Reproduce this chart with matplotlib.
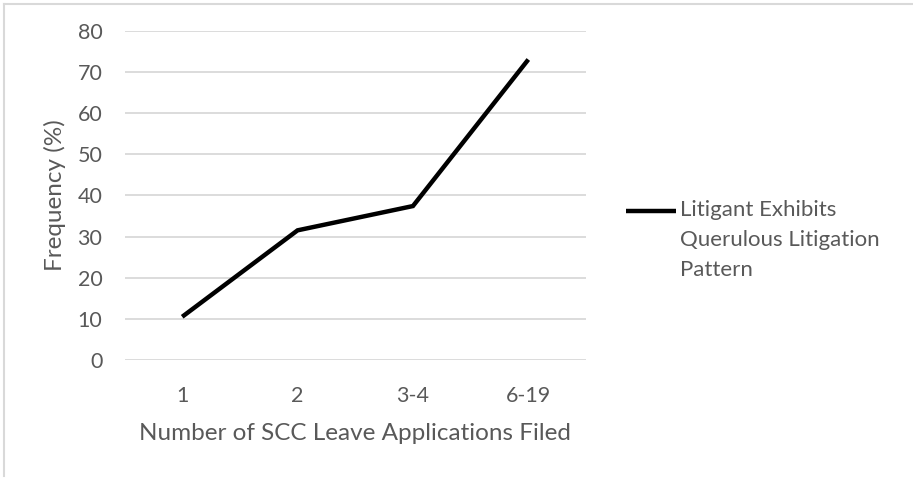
import matplotlib
matplotlib.use("Agg")
import matplotlib.pyplot as plt
from matplotlib.lines import Line2D

categories = ["1", "2", "3-4", "6-19"]
frequency = [10.5, 31.5, 37.4, 73.0]
yticks = [0, 10, 20, 30, 40, 50, 60, 70, 80]
series_name = "Litigant Exhibits\nQuerulous Litigation\nPattern"

W, H = 913, 478
fig = plt.figure(figsize=(W / 100, H / 100), dpi=100)
fig.patch.set_facecolor("white")

plt.rcParams["font.family"] = ["Lato", "DejaVu Sans"]
txt = "#595959"

ax_left, ax_right = 124.5, 586
ax = fig.add_axes([ax_left / W, 1 - 360 / H, (ax_right - ax_left) / W, (360 - 30.7) / H])
x = list(range(len(categories)))
ax.plot(x, frequency, color="black", lw=3.2, solid_joinstyle="miter", solid_capstyle="butt", zorder=3)
ax.set_xlim(-0.5, len(categories) - 0.5)
ax.set_ylim(0, 80)
ax.set_yticks(yticks)
ax.set_xticks(x)
ax.set_xticklabels(categories)
ax.grid(axis="y", color="#d9d9d9", lw=1.3)
ax.set_axisbelow(True)
for s in ax.spines.values():
    s.set_visible(False)
ax.tick_params(length=0, labelsize=15.5, labelcolor=txt)
ax.tick_params(axis="y", pad=16)
ax.tick_params(axis="x", pad=19)
ax.set_ylabel("Frequency (%)", fontsize=17.5, color=txt)
ax.yaxis.set_label_coords((66 - ax_left) / (ax_right - ax_left), 0.5)
ax.set_xlabel("Number of SCC Leave Applications Filed", fontsize=17.5, color=txt, labelpad=12)

# legend
fig.add_artist(Line2D([626 / W, 676 / W], [1 - 211 / H, 1 - 211 / H], color="black", lw=3.2,
                      transform=fig.transFigure, solid_capstyle="butt"))
fig.text(680 / W, 1 - 200 / H, series_name, fontsize=16, color=txt, va="top", ha="left",
         linespacing=1.62)

# frame
fig.add_artist(Line2D([4 / W, 1], [1 - 4 / H, 1 - 4 / H], color="#d9d9d9", lw=1.5,
                      transform=fig.transFigure))
fig.add_artist(Line2D([4 / W, 4 / W], [1 - 4 / H, 2 / H], color="#d9d9d9", lw=1.5,
                      transform=fig.transFigure))

fig.savefig("out.png", dpi=100)
